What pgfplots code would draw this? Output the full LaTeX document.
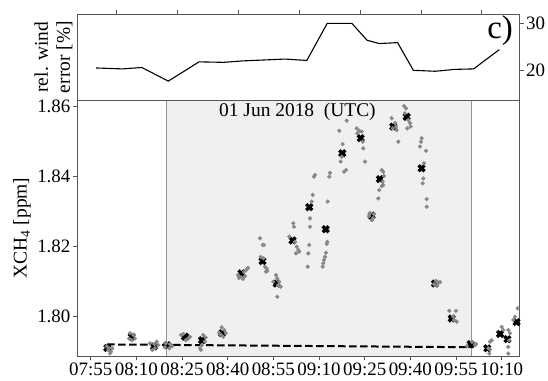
\documentclass[border=0pt]{standalone}
\usepackage{fontspec}
\setmainfont{Liberation Serif}
\usepackage{pgfplots}
\pgfplotsset{compat=1.18}
\definecolor{dotgray}{RGB}{136,136,136}
\definecolor{shade}{RGB}{240,240,240}
\definecolor{spine}{RGB}{85,85,85}
\definecolor{edge}{RGB}{150,150,150}
\begin{document}
\begin{tikzpicture}
\useasboundingbox (0bp,0bp) rectangle (548bp,381bp);
\pgfplotsset{
  every axis/.append style={
    scale only axis, width=442bp, xmin=50.6, xmax=195.8,
    axis line style={spine, line width=0.9bp},
    tick style={spine, line width=0.9bp},
    major tick length=4.5bp, tick align=outside,
    tick label style={font=\fontsize{19}{22}\selectfont, inner sep=2.2bp},
    label style={font=\fontsize{19.5}{22}\selectfont},
    /pgf/number format/assume math mode=true,
  }
}
% bottom panel
\begin{axis}[at={(77.3bp,25bp)}, anchor=south west, height=256bp,
  ymin=1.7888, ymax=1.8619, axis on top, clip=true,
  xtick={55,70,85,100,115,130,145,160,175,190},
  xticklabels={07:55,08:10,08:25,08:40,08:55,09:10,09:25,09:40,09:55,10:10},
  ytick={1.80,1.82,1.84,1.86}, yticklabels={1.80,1.82,1.84,1.86},
  xtick pos=left, ytick pos=left,
  ylabel={XCH\textsubscript{4} [ppm]},
  ylabel style={at={(axis description cs:-0.125,0.5)}, anchor=center},
]
\addplot[fill=shade, draw=none] coordinates {(80,1.7888) (180,1.7888) (180,1.8619) (80,1.8619)} -- cycle;
\addplot[edge, line width=0.9bp] coordinates {(80,1.7888) (80,1.8619)};
\addplot[edge, line width=0.9bp] coordinates {(180,1.7888) (180,1.8619)};
\addplot[black, line width=2bp, dash pattern=on 7.5bp off 3.5bp] coordinates {(60.4,1.7921) (180.8,1.7913)};
% black X markers
\addplot[only marks, mark=x, mark size=4.2bp, black, line width=3.3bp] coordinates {
(60.45,1.7911) (68.47,1.7943) (75.8,1.7915) (80.16,1.7919) (86.0,1.7943) (91.56,1.7933)
(98.13,1.7953) (104.54,1.8124) (111.44,1.8159) (116.1,1.8095) (121.3,1.8218) (126.8,1.8313)
(132.2,1.8250) (137.65,1.8467) (143.7,1.8510) (147.3,1.8289) (150.0,1.8393) (154.4,1.8543)
(158.8,1.8571) (163.7,1.8424) (168.1,1.8095) (173.6,1.7995) (179.8,1.7922) (185.3,1.7910)
(189.5,1.7951) (191.9,1.7936) (194.9,1.7985)
};
% gray dots
\addplot[only marks, mark=*, mark size=1.9bp, dotgray, mark options={draw=none, fill=dotgray}] coordinates {
(60.78,1.7905) (61.67,1.7900) (61.34,1.7895) (62.10,1.7910) (60.26,1.7916) (61.01,1.7910)
(67.91,1.7953) (68.99,1.7948) (69.55,1.7938) (68.47,1.7933) (67.58,1.7938)
(74.48,1.7924) (75.89,1.7922) (76.68,1.7929) (77.21,1.7919) (76.12,1.7910) (75.24,1.7905)
(79.64,1.7924) (81.05,1.7922) (81.81,1.7916) (80.82,1.7910) (79.41,1.7913)
(84.66,1.7948) (85.42,1.7951) (87.06,1.7938) (86.21,1.7933) (87.62,1.7943)
(91.99,1.7948) (92.78,1.7941) (91.46,1.7919) (90.90,1.7910) (92.55,1.7929) (91.23,1.7905)
(98.03,1.7970) (98.89,1.7962) (99.35,1.7953) (97.80,1.7948) (98.56,1.7943) (97.15,1.7954)
(103.39,1.8119) (104.37,1.8113) (105.36,1.8128) (106.02,1.8133) (106.67,1.8139) (105.03,1.8108) (103.72,1.8111) (105.69,1.8116)
(110.62,1.8224) (111.50,1.8205) (111.93,1.8205) (110.85,1.8171) (111.70,1.8167) (112.26,1.8143) (112.82,1.8138) (112.59,1.8129) (113.01,1.8131)
(115.87,1.8119) (116.30,1.8110) (116.96,1.8100) (117.42,1.8086) (116.30,1.8057) (114.98,1.8100) (116.63,1.8091)
(121.55,1.8267) (121.78,1.8257) (120.24,1.8229) (122.11,1.8214) (122.67,1.8200) (123.20,1.8191) (122.44,1.8181) (123.52,1.8186)
(128.68,1.8405) (128.35,1.8400) (127.93,1.8348) (127.60,1.8329) (127.04,1.8281) (127.04,1.8257) (126.81,1.8205) (126.48,1.8181) (126.28,1.8143)
(133.61,1.8411) (133.38,1.8400) (132.85,1.8329) (132.72,1.8214) (132.53,1.8208) (132.30,1.8183) (131.97,1.8171) (131.64,1.8162) (131.41,1.8153) (131.21,1.8143)
(136.67,1.8531) (137.78,1.8493) (137.45,1.8457) (137.12,1.8443) (138.21,1.8414) (138.87,1.8419) (139.10,1.8560)
(142.38,1.8538) (143.23,1.8531) (144.02,1.8529) (144.55,1.8481) (145.11,1.8443) (142.58,1.8524) (144.35,1.8500)
(146.75,1.8296) (147.74,1.8282) (148.07,1.8293) (147.41,1.8276) (146.42,1.8288)
(150.59,1.8419) (151.12,1.8414) (151.35,1.8402) (150.92,1.8386) (150.59,1.8373) (149.80,1.8362) (149.48,1.8338) (151.12,1.8376)
(153.88,1.8567) (154.96,1.8553) (155.52,1.8533) (156.05,1.8500) (154.21,1.8538) (155.29,1.8543)
(157.92,1.8602) (158.58,1.8595) (159.33,1.8562) (159.89,1.8553) (160.12,1.8543) (159.00,1.8538) (158.25,1.8581)
(163.73,1.8510) (163.50,1.8500) (163.17,1.8486) (165.14,1.8474) (164.49,1.8438) (164.26,1.8395) (164.06,1.8381) (165.38,1.8336) (165.38,1.8314)
(168.43,1.8102) (169.09,1.8096) (169.75,1.8099) (168.76,1.8088) (167.78,1.8093)
(172.80,1.8017) (175.00,1.8017) (174.11,1.8000) (175.23,1.7986) (174.34,1.7991)
(180.26,1.7928) (181.24,1.7919) (181.57,1.7922) (178.61,1.7916)
(186.17,1.7929) (186.73,1.7933) (185.61,1.7910) (186.17,1.7907) (185.94,1.7895)
(190.01,1.7971) (190.54,1.7962) (192.18,1.7962) (192.74,1.7953) (192.51,1.7933) (192.18,1.7914) (192.18,1.7895) (194.38,1.8000) (195.27,1.8024) (193.82,1.7991)
};
\end{axis}
% top panel
\begin{axis}[at={(77.3bp,281bp)}, anchor=south west, height=85.7bp,
  ymin=13.68, ymax=31.93,
  xtick={63.5,83.5,103.5,123.5,143.5,163.5,183.5}, xticklabels={},
  xtick pos=right, ytick={20,30}, ytick pos=right, yticklabel pos=right,
  ylabel={rel. wind\\error [\%]},
  ylabel style={at={(axis description cs:-0.054,0.5)}, anchor=center, align=center},
]
\addplot[black, line width=1.1bp] coordinates {
(56.8,20.5) (65.4,20.3) (71.8,20.6) (80.5,17.7) (90.6,21.8) (98.7,21.7) (104.8,22.0)
(111.9,22.2) (118.8,22.4) (126.0,22.1) (132.7,30.0) (140.8,30.0) (145.8,26.4) (149.8,25.7)
(155.8,25.9) (161.0,20.0) (168.2,19.8) (174.6,20.2) (180.8,20.3) (189.2,24.4)
};
\end{axis}
\node[anchor=base west, font=\fontsize{19.5}{22}\selectfont, inner sep=0pt] at (219bp,264.3bp) {01 Jun 2018~~(UTC)};
\node[anchor=base east, font=\fontsize{33}{36}\selectfont, inner sep=0pt] at (513bp,342.7bp) {c)};
\end{tikzpicture}
\end{document}
